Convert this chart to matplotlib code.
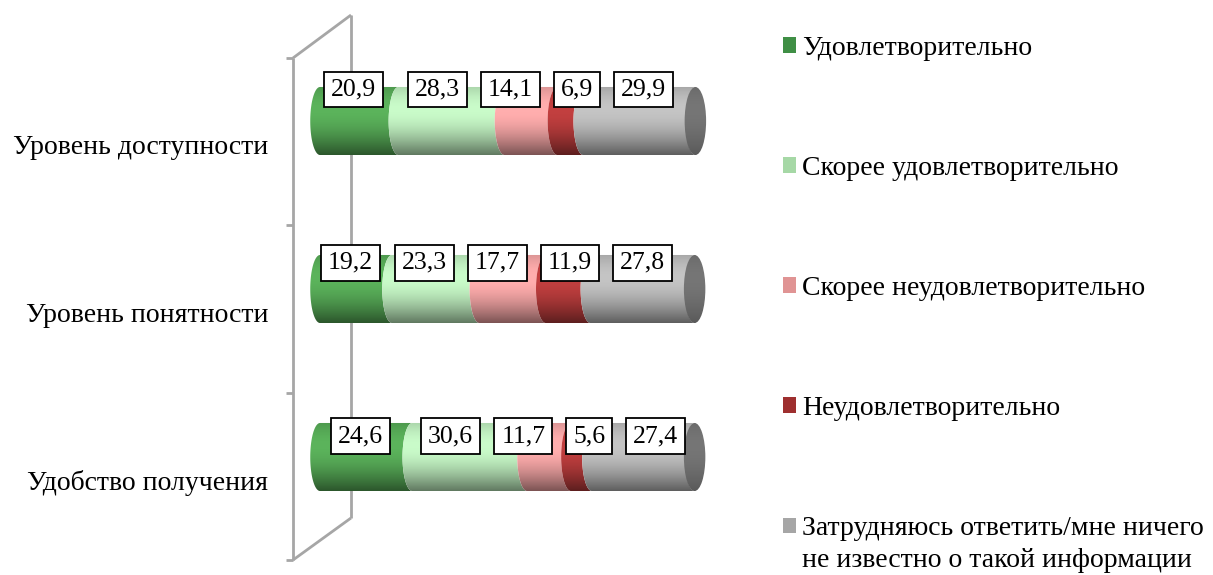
import numpy as np
import matplotlib
matplotlib.use("Agg")
import matplotlib.pyplot as plt
from matplotlib.path import Path
from matplotlib.patches import PathPatch, Ellipse, Rectangle
from matplotlib.lines import Line2D
from matplotlib.transforms import ScaledTranslation

plt.rcParams['font.family'] = ['Liberation Serif', 'DejaVu Serif']

# ---------------- data ----------------
categories = ["Уровень доступности", "Уровень понятности", "Удобство получения"]
series_names = ["Удовлетворительно", "Скорее удовлетворительно",
                "Скорее неудовлетворительно", "Неудовлетворительно",
                "Затрудняюсь ответить/мне ничего\nне известно о такой информации"]
satisfactory = [20.9, 19.2, 24.6]
rather_satisfactory = [28.3, 23.3, 30.6]
rather_unsatisfactory = [14.1, 17.7, 11.7]
unsatisfactory = [6.9, 11.9, 5.6]
hard_to_say = [29.9, 27.8, 27.4]
values = [satisfactory, rather_satisfactory, rather_unsatisfactory, unsatisfactory, hard_to_say]

# ---------------- styles ----------------
base_colors = ["#58ad58", "#c2f2c2", "#f8a8a8", "#bb3d3d", "#bdbdbd"]
legend_colors = ["#3f8f45", "#a6d8a6", "#e09494", "#9e2f2f", "#a6a6a6"]
cap_color = "#707070"

W, H = 1213, 575
fig = plt.figure(figsize=(W / 100, H / 100), dpi=100)

# background (3D wall)
bg = fig.add_axes([0, 0, 1, 1])
bg.set_xlim(0, W)
bg.set_ylim(H, 0)
bg.axis('off')
wall_kw = dict(color="#a6a6a6", lw=2.0, solid_capstyle='butt')
bg.add_line(Line2D([351, 351], [15, 518], **wall_kw))
bg.add_line(Line2D([293, 293], [58, 560], **wall_kw))
bg.add_line(Line2D([293, 351], [58, 15], **wall_kw))
bg.add_line(Line2D([293, 351], [560, 518], **wall_kw))
for ty in [58, 225, 393, 560]:
    bg.add_line(Line2D([286, 293], [ty, ty], **wall_kw))

# main axes
px_per_unit = 3.75
ax_left_px, ax_right_px = 300, 720
zero_px = 320
ax = fig.add_axes([ax_left_px / W, (H - 541) / H, (ax_right_px - ax_left_px) / W, 504 / H])
ax.patch.set_alpha(0)
for s in ax.spines.values():
    s.set_visible(False)

bar_h = 0.405
a = 2.6  # half width of the elliptical cross-section in data units


def shade(hexcol, n=120, top=0.88, peak=1.04, peak_pos=0.33, bottom=0.5):
    rgb = np.array(matplotlib.colors.to_rgb(hexcol))
    t = np.linspace(0, 1, n)
    f = np.where(t < peak_pos,
                 top + (peak - top) * np.sin(0.5 * np.pi * t / peak_pos),
                 bottom + (peak - bottom) * np.cos(0.5 * np.pi * (t - peak_pos) / (1 - peak_pos)))
    arr = np.clip(rgb[None, :] * f[:, None], 0, 1)
    return arr[:, None, :]


def left_arc(xc, yc, h, reverse=False):
    th = np.linspace(np.pi / 2, 3 * np.pi / 2, 40)
    if reverse:
        th = th[::-1]
    return np.column_stack([xc + a * np.cos(th), yc - h / 2 * np.sin(th)])


n_cat = len(categories)
label_items = []
for ci in range(n_cat):
    yc = ci
    left = 0.0
    for si, vals in enumerate(values):
        v = vals[ci]
        x0, x1 = left, left + v
        pts = np.vstack([left_arc(x0, yc, bar_h), left_arc(x1, yc, bar_h, reverse=True)])
        path = Path(np.vstack([pts, pts[:1]]), closed=True)
        patch = PathPatch(path, facecolor='none', edgecolor='none')
        ax.add_patch(patch)
        im = ax.imshow(shade(base_colors[si]), extent=(x0 - a - 0.5, x1 + 0.5, yc + bar_h / 2, yc - bar_h / 2),
                       origin='upper', aspect='auto', interpolation='bilinear', zorder=2)
        im.set_clip_path(patch)
        label_items.append((ci, (x0 + x1) / 2, f"{v:.1f}".replace('.', ',')))
        left = x1
    # end cap
    cap = Ellipse((left, yc), 2 * a * 1.1, bar_h, facecolor='none', edgecolor='none')
    ax.add_patch(cap)
    imc = ax.imshow(shade(cap_color, top=0.95, peak=1.05, bottom=0.8),
                    extent=(left - a * 1.2, left + a * 1.2, yc + bar_h / 2, yc - bar_h / 2),
                    origin='upper', aspect='auto', interpolation='bilinear', zorder=3)
    imc.set_clip_path(cap)

ax.set_xlim(-(zero_px - ax_left_px) / px_per_unit, (ax_right_px - zero_px) / px_per_unit)
ax.set_ylim(n_cat - 0.5, -0.5)

ax.set_xticks([])
ax.set_yticks(range(n_cat))
ax.set_yticklabels(categories, fontsize=20)
ax.tick_params(axis='y', length=0, pad=32 * 72 / 100)
for lab in ax.get_yticklabels():
    lab.set_transform(lab.get_transform() + ScaledTranslation(0, -23 / 100, fig.dpi_scale_trans))

# data labels (slight perspective: rows nearer the top sit a bit higher) with horizontal de-overlap
texts = []
for ci, xm, s in label_items:
    dy_px = -31.5 + 5.25 * ci
    t = ax.text(xm, ci + dy_px / 168, s, ha='center', va='center', fontsize=18.5, zorder=5,
                bbox=dict(boxstyle='square,pad=0.27', facecolor='white', edgecolor='black', lw=1.3))
    texts.append((ci, xm, t))

fig.canvas.draw()
renderer = fig.canvas.get_renderer()
depth_shift_px = -6
for ci in range(n_cat):
    row = [(xm, t) for c, xm, t in texts if c == ci]
    pos = np.array([ax.transData.transform((xm, 0))[0] for xm, _ in row]) + depth_shift_px
    widths = np.array([t.get_bbox_patch().get_window_extent(renderer).width for _, t in row])
    gap = 14
    for _ in range(300):
        for i in range(len(pos) - 1):
            need = (widths[i] + widths[i + 1]) / 2 + gap
            d = pos[i + 1] - pos[i]
            if d < need:
                sh = (need - d) / 2
                pos[i] -= sh
                pos[i + 1] += sh
    inv = ax.transData.inverted()
    for (xm, t), p in zip(row, pos):
        t.set_x(inv.transform((p, 0))[0])

# legend (first line of each name in the legend; continuation lines set beneath)
first_lines = [n.split('\n')[0] for n in series_names]
handles = [Rectangle((0, 0), 1, 1, facecolor=c, edgecolor='none') for c in legend_colors]
leg = fig.legend(handles, first_lines, loc='upper left', bbox_to_anchor=(772 / W, 1 - 25 / H),
                 frameon=False, fontsize=20, handlelength=0.48, handleheight=0.48,
                 handletextpad=0.2, labelspacing=3.42, borderaxespad=0)
fig.canvas.draw()
for txt, name in zip(leg.get_texts(), series_names):
    rest = name.split('\n')[1:]
    if rest:
        bb = txt.get_window_extent(renderer)
        fig.text(bb.x0 / W, (bb.y0 - 32) / H + (bb.height / 2) / H, "\n".join(rest),
                 ha='left', va='center', fontsize=20)

fig.savefig("out.png", dpi=100)
